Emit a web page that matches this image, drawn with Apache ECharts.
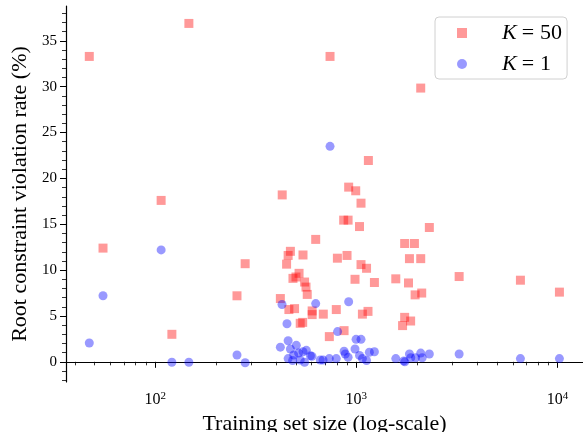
<!DOCTYPE html>
<html>
<head>
<meta charset="utf-8">
<script src="https://cdn.jsdelivr.net/npm/echarts@6/dist/echarts.min.js"></script>
<style>
  html, body { margin: 0; padding: 0; background: #fff; }
  #chart { width: 583px; height: 432px; }
</style>
</head>
<body>
<div id="chart"></div>
<script>
  // K = 50 : [training set size, violation rate %]
  const k50Points = [
    [47, 33.3], [147, 36.9], [107, 17.6], [428, 18.2], [740, 33.3], [2090, 29.85],
    [1148, 21.95], [916, 19.05], [993, 18.65], [1055, 17.3], [865, 15.45], [910, 15.45],
    [1037, 14.75], [2307, 14.65], [628, 13.35], [1739, 12.9], [1945, 12.9], [543, 11.65],
    [805, 11.3], [899, 11.6], [1837, 11.25], [2090, 11.25], [1055, 10.6], [1124, 10.2],
    [985, 9.0], [1230, 8.65], [1571, 9.05], [1817, 8.6], [3245, 9.3], [6546, 8.9],
    [10230, 7.6], [1960, 7.3], [2114, 7.5], [570, 7.35], [795, 5.7], [603, 5.55],
    [603, 5.15], [685, 5.2], [1072, 5.2], [1143, 5.5], [541, 4.3], [869, 3.4],
    [734, 2.75], [1739, 4.85], [1698, 3.95], [1862, 4.45], [55, 12.4], [280, 10.7],
    [470, 12.05], [458, 11.6], [450, 10.65], [519, 9.65], [501, 9.25], [484, 9.1],
    [553, 8.7], [562, 8.15], [255, 7.2], [419, 6.9], [462, 5.7], [493, 5.8],
    [526, 4.2], [121, 3.0]
  ]
  // K = 1
  const k1Points = [
    [740, 23.5], [628, 6.35], [916, 6.55], [807, 3.3], [997, 2.45], [1055, 2.45],
    [985, 1.4], [869, 1.15], [881, 0.85], [910, 0.5], [1037, 0.7], [1072, 0.35],
    [1124, 0.15], [1161, 1.05], [1230, 1.1], [683, 0.2], [734, 0.35], [795, 0.35],
    [1571, 0.35], [1742, 0.0], [1722, 0.1], [1837, 0.85], [1865, 0.45], [1970, 0.45],
    [2090, 0.95], [2125, 0.45], [2307, 0.85], [3245, 0.85], [6546, 0.35], [10230, 0.35],
    [107, 12.2], [55, 7.2], [47, 2.05], [121, -0.05], [147, -0.05], [255, 0.75],
    [280, -0.1], [427, 6.25], [452, 4.15], [458, 2.3], [419, 1.6], [503, 1.8],
    [470, 1.4], [488, 0.75], [516, 0.95], [543, 1.1], [564, 1.25], [602, 0.6],
    [458, 0.35], [482, 0.15], [526, 0.2], [553, -0.05], [591, 0.65], [662, 0.2]
  ]

  const xMajorTicks = [100, 1000, 10000]
  const xMinorTicks = [40, 50, 60, 70, 80, 90, 200, 300, 400, 500, 600, 700, 800, 900,
    2000, 3000, 4000, 5000, 6000, 7000, 8000, 9000]
  const yMajorTicks = [0, 5, 10, 15, 20, 25, 30, 35]
  const yMinorTicks = []
  for (let v = -2; v <= 38; v++) {
    if (v % 5 !== 0) yMinorTicks.push(v)
  }

  const font = 'Liberation Serif'
  const xMin = 36, xMax = 13400
  const yMin = -2.2, yMax = 38.8

  const chart = echarts.init(document.getElementById('chart'))
  chart.setOption({
    animation: false,
    textStyle: {fontFamily: font},
    grid: {left: 66, right: 0, top: 6, bottom: 50, containLabel: false, outerBoundsMode: 'none'},
    legend: {
      orient: 'vertical',
      left: 435,
      top: 17,
      padding: [4, 5, 3, 22],
      itemGap: 7,
      itemWidth: 10,
      itemHeight: 10,
      backgroundColor: '#fff',
      borderColor: '#d0d0d0',
      borderWidth: 1,
      borderRadius: 4,
      data: [{name: 'K50', icon: 'rect'}, {name: 'K1', icon: 'circle'}],
      formatter: function (name) {
        return name === 'K50' ? '{i|K}{e|=}50' : '{i|K}{e|=}1'
      },
      textStyle: {
        fontFamily: font,
        fontSize: 22,
        color: '#000',
        lineHeight: 24,
        padding: [0, 0, 0, 30],
        rich: {
          i: {fontFamily: font, fontSize: 22, fontStyle: 'italic', color: '#000'},
          e: {fontFamily: font, fontSize: 22, color: '#000', padding: [0, 6, 0, 5]}
        }
      }
    },
    xAxis: [
      {
        type: 'log',
        min: xMin,
        max: xMax,
        name: 'Training set size (log-scale)',
        nameLocation: 'middle',
        nameGap: 25,
        nameTextStyle: {fontFamily: font, fontSize: 22, color: '#000'},
        axisLine: {lineStyle: {color: '#000', width: 1.2}},
        axisTick: {customValues: xMajorTicks, length: 6, lineStyle: {color: '#000', width: 1}},
        axisLabel: {
          customValues: xMajorTicks,
          margin: 9,
          color: '#000',
          fontFamily: font,
          fontSize: 16,
          formatter: function (v) {
            return '10{s|' + Math.round(Math.log10(v)) + '}'
          },
          rich: {
            s: {fontFamily: font, fontSize: 11, color: '#000', padding: [0, 0, 7, 0]}
          }
        },
        splitLine: {show: false}
      },
      {
        type: 'log',
        min: xMin,
        max: xMax,
        position: 'bottom',
        axisLine: {show: false},
        axisTick: {customValues: xMinorTicks, length: 3.5, lineStyle: {color: '#000', width: 0.8}},
        axisLabel: {show: false},
        splitLine: {show: false}
      }
    ],
    yAxis: [
      {
        type: 'value',
        min: yMin,
        max: yMax,
        name: 'Root constraint violation rate (%)',
        nameLocation: 'middle',
        nameGap: 33,
        nameTextStyle: {fontFamily: font, fontSize: 22, color: '#000'},
        axisLine: {show: true, lineStyle: {color: '#000', width: 1.2}},
        axisTick: {show: true, customValues: yMajorTicks, length: 6, lineStyle: {color: '#000', width: 1}},
        axisLabel: {customValues: yMajorTicks, margin: 9, color: '#000', fontFamily: font, fontSize: 15},
        splitLine: {show: false}
      },
      {
        type: 'value',
        min: yMin,
        max: yMax,
        position: 'left',
        offset: 0,
        axisLine: {show: false},
        axisTick: {show: true, customValues: yMinorTicks, length: 4, lineStyle: {color: '#000', width: 0.8}},
        axisLabel: {show: false},
        splitLine: {show: false}
      }
    ],
    series: [
      {
        name: 'K50',
        type: 'scatter',
        symbol: 'rect',
        symbolSize: 9,
        data: k50Points,
        itemStyle: {color: 'rgba(255, 0, 0, 0.5)'}
      },
      {
        name: 'K1',
        type: 'scatter',
        symbol: 'circle',
        symbolSize: 9,
        data: k1Points,
        itemStyle: {color: 'rgba(0, 0, 255, 0.5)'}
      }
    ]
  })
</script>
</body>
</html>
